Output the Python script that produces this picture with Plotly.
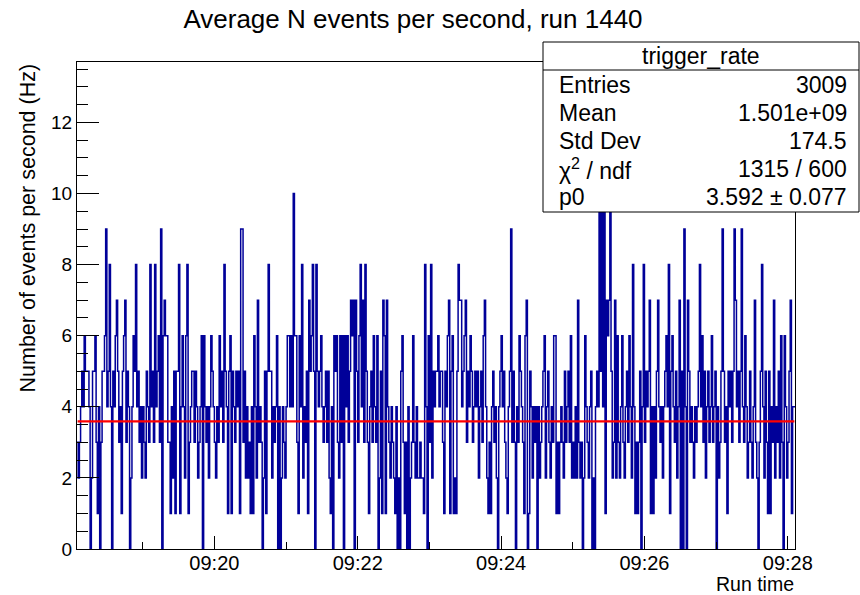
import pandas as pd
import plotly.graph_objects as go

# ---------------- data (events per second, one bin per second) ----------------
RUN_START = "2017-07-25 09:18:05"
rate_a = [3,2,3,4,5,4,6,5,5,5, 4,0,2,5,5,6,3,1,4,0, 3,5,5,6,9,4,5,8,4,0,
          5,4,6,7,5,3,4,1,5,6, 7,3,5,4,0,2,4,6,5,8, 4,5,3,4,2,4,3,2,5,4,
          3,8,4,5,3,8,4]
rate_b = [5,6,3, 9,0,6,7,6,6,3,3,1,4, 2,5,1,5,5,8,1,4,6,4, 2,6,8,1,3,4,5,5,3,5,
          4,2,3,4,6,0,6,4,3,4, 2,4,6,5,4,3,2,4,3,6, 4,5,3,8,5,4,1,5,6,1,
          5,4,3,5,4]
rate_c = [5,1,9,9,3, 5,2,4,2,3,1,4,1,6,4, 2,7,3,4,3,0,2,5,1,5, 8,5,5,2,4,3,4,6,0,4,
          0,2,4,3,2,4,6,6,4,6, 4,10,6,6,3,1,6,4,8,2, 4,3,5,1,7,5,6,8,5]
rate_d = [0, 8,5,4,5,6,4,3,4,5,3, 5,2,1,4,0,6,5,6,3,2, 6,3,6,0,6,4,6,3,5,7,
          6,7,0,7,5,3,6,8,4,7, 3,8,5,3,1,4,5,3,6,4, 3,6,0,2,5,1,7,6,1,7,
          4,3,2,4,3,2]
rate_e = [1,4,0,2, 0,5,6,3,1,3,0,4,0,2, 3,6,3,2,4,2,2,3,2,2, 1,8,4,0,6,3,8,2,5,4,
          5,5,6,4,5,5,3,1,5,4, 6,7,1,5,6,1,2,1,5,8, 7,7,4,5,6,7,3,5,4,6,
          5,3,4,5]
rate_f = [4,5,2,4,5,3, 6,7,4,2,1,3,1,4,5,3, 4,2,0,4,5,6,4,5,3,2, 1,4,5,9,3,5,3,0,4,3,
          6,5,4,3,1,6,7,0,1,5, 4,2,4,3,4,0,4,2,3,4, 5,6,2,4,5,3,2,4,3,6]
rate_g = [6,1,3,1,3,4,3,2,5,3, 4,5,3,6,2,3,2,4,2,7, 3,2,3,0,2,6,4,3,2,4,
          5,0,2,0,4,5,4,11,5,12, 4,10,1,7,6,7,10,5,2,3, 7,2,6,3,2,4,6,3,2,4,
          5,3,6,4,2,8,4]
rate_h = [1,3,1, 3,5,0,4,8,3,5,4,5,7, 1,4,1,4,2,5,7,4,3,4, 2,4,5,6,4,8,1,5,6,4,
          3,5,2,4,7,0,5,0,9,4, 0,7,5,3,4,3,2,4,3,4, 5,8,4,6,3,5,2,4,5,3,
          4,6,3,4,5]
rate_i = [0,4,2,3,5, 9,5,3,4,1,5,4,5,3,5, 9,7,4,5,3,5,9,4,3,6, 4,2,3,5,3,2,4,7,3,2,
          0,3,5,8,4,2,5,3,1,5, 1,4,3,7,2,4,3,5,2,6, 3,0,6,4,2,3,5,7,1,4, 4]

FIT_P0 = 3.592
Y_MAX = 13.7
TITLE = "Average N events per second, run 1440"
Y_TITLE = "Number of events per second (Hz)"
X_TITLE = "Run time"
STATS_NAME = "trigger_rate"
STATS_LABELS = ["Entries", "Mean", "Std Dev", "χ<sup>2</sup> / ndf", "p0"]
STATS_VALUES = ["3009", "1.501e+09", "174.5", "1315 / 600", "3.592 ± 0.077"]

rates = rate_a + rate_b + rate_c + rate_d + rate_e + rate_f + rate_g + rate_h + rate_i
n = len(rates)
edges = pd.date_range(RUN_START, periods=n + 1, freq="1s")
centers = edges[:-1] + pd.Timedelta(milliseconds=500)

FONT = "Liberation Sans, Arial, Helvetica, sans-serif"
NAVY = "#000099"

fig = go.Figure()
fig.add_trace(go.Scatter(
    x=edges, y=rates + [rates[-1]], mode="lines", line_shape="hv",
    line=dict(color=NAVY, width=1.5), hoverinfo="skip", showlegend=False))
fig.add_trace(go.Scatter(
    x=[centers[0], centers[-1]], y=[FIT_P0, FIT_P0], mode="lines",
    line=dict(color="#ff0000", width=2.2), hoverinfo="skip", showlegend=False))

# plot area in pixels
L, R, T, B = 77, 795, 62, 549
W, H = R - L, B - T
def px(x):
    return (x - L) / W
def py(y):
    return (B - y) / H

fig.update_layout(
    width=860, height=595,
    margin=dict(l=L, r=860 - R, t=T, b=595 - B),
    paper_bgcolor="white", plot_bgcolor="white",
    font=dict(family=FONT, color="black"),
    title=dict(text=TITLE, x=413 / 860, xref="container", xanchor="center",
               y=1 - 19 / 595, yref="container", yanchor="middle",
               font=dict(size=26, family=FONT, color="black")),
    xaxis=dict(type="date", range=[edges[0], edges[-1]], showgrid=False,
               zeroline=False, showline=True, linecolor="black", linewidth=1,
               mirror=True, ticks="inside", ticklen=13, tickcolor="black",
               tickformat="%H:%M", tick0="2017-07-25 09:18:00", dtick=120000,
               ticklabelstandoff=-4,
               tickfont=dict(size=20, family=FONT),
               minor=dict(dtick=60000, ticks="inside", ticklen=7, tickcolor="black")),
    yaxis=dict(range=[0, Y_MAX], showgrid=False, zeroline=False, showline=True,
               linecolor="black", linewidth=1, mirror=True, ticks="inside",
               ticklen=22, tickcolor="black", dtick=2, tick0=0,
               tickfont=dict(size=19, family=FONT),
               minor=dict(dtick=0.5, ticks="inside", ticklen=11, tickcolor="black")),
)

ann = []
ann.append(dict(text=Y_TITLE, xref="paper", yref="paper", x=px(27), y=1.0,
                xanchor="center", yanchor="top", textangle=-90, showarrow=False,
                font=dict(size=21.5, family=FONT)))
ann.append(dict(text=X_TITLE, xref="paper", yref="paper", x=1.0, y=py(584),
                xanchor="right", yanchor="middle", showarrow=False, borderpad=0,
                font=dict(size=19.5, family=FONT)))

# stats box
fig.add_shape(type="rect", xref="paper", yref="paper", x0=px(543), x1=px(859),
              y0=py(212), y1=py(42), fillcolor="white",
              line=dict(color="black", width=1), layer="above")
fig.add_shape(type="line", xref="paper", yref="paper", x0=px(543), x1=px(859),
              y0=py(70), y1=py(70), line=dict(color="black", width=1), layer="above")
ann.append(dict(text=STATS_NAME, xref="paper", yref="paper", x=px(701), y=py(56),
                xanchor="center", yanchor="middle", showarrow=False,
                font=dict(size=23, family=FONT)))
for k, (lab, val) in enumerate(zip(STATS_LABELS, STATS_VALUES)):
    yy = 85 + 28 * k
    ann.append(dict(text=lab, xref="paper", yref="paper", x=px(557), y=py(yy),
                    xanchor="left", yanchor="middle", showarrow=False,
                    font=dict(size=23, family=FONT)))
    ann.append(dict(text=val, xref="paper", yref="paper", x=px(849), y=py(yy),
                    xanchor="right", yanchor="middle", showarrow=False,
                    font=dict(size=23, family=FONT)))
fig.update_layout(annotations=ann)

fig.write_html("out.html")
